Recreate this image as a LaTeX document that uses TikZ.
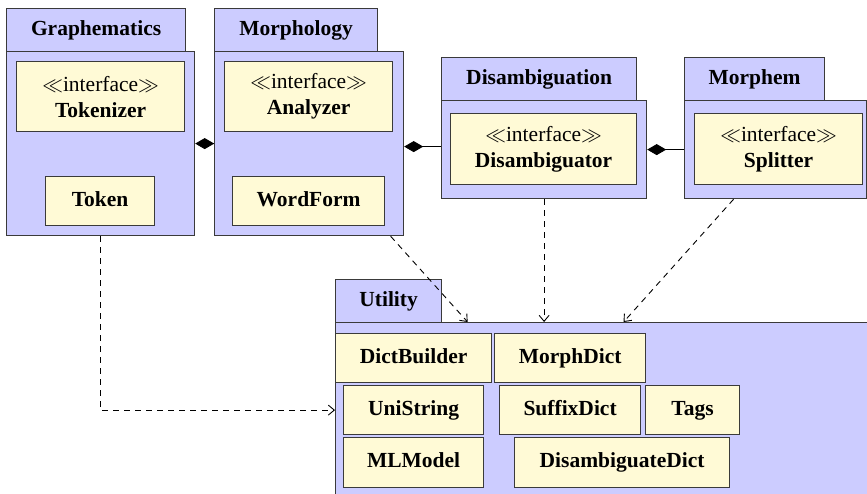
\documentclass[tikz,border=0pt]{standalone}
\usepackage{fontspec}
\setmainfont{Liberation Serif}
\usetikzlibrary{arrows.meta}
\definecolor{pkg}{HTML}{CCCCFF}
\definecolor{cls}{HTML}{FFFAD6}
\definecolor{edge}{HTML}{3A3A3A}
\begin{document}
\begin{tikzpicture}[x=1pt,y=-1pt,
  box/.style={draw=edge, line width=1.2pt, anchor=north west, inner sep=0pt, align=center,
    font=\fontsize{21.5}{26}\selectfont\bfseries},
  one/.style={text height=15pt, text depth=5pt},
  pkgpart/.style={box, fill=pkg, one},
  clsbox/.style={box, fill=cls, one},
  ifbox/.style={box, fill=cls},
  comp/.style={draw=black, line width=0.9pt, {Diamond[length=19pt,width=11pt]}-},
  dep/.style={draw=black, line width=0.9pt, dash pattern=on 6pt off 5pt,
    -{Straight Barb[length=6pt,width=10pt]}}
]
\useasboundingbox (0,0) rectangle (867,493);
% Graphematics
\node[pkgpart, minimum width=179pt, minimum height=43pt] (gtab) at (6,8) {Graphematics};
\node[pkgpart, minimum width=188pt, minimum height=184pt] (gbody) at (6,51) {};
\node[ifbox, minimum width=168pt, minimum height=70pt] (tokenizer) at (16,61) {{\mdseries $\ll$interface$\gg$}\\Tokenizer};
\node[clsbox, minimum width=109pt, minimum height=49pt] (token) at (45,176) {Token};
% Morphology
\node[pkgpart, minimum width=163pt, minimum height=43pt] (mtab) at (214,8) {Morphology};
\node[pkgpart, minimum width=189pt, minimum height=184pt] (mbody) at (214,51) {};
\node[ifbox, minimum width=168pt, minimum height=70pt] (analyzer) at (224,61) {{\mdseries $\ll$interface$\gg$}\\Analyzer};
\node[clsbox, minimum width=152pt, minimum height=49pt] (wordform) at (232,176) {WordForm};
% Disambiguation
\node[pkgpart, minimum width=195pt, minimum height=43pt] (dtab) at (441,57) {Disambiguation};
\node[pkgpart, minimum width=205pt, minimum height=98pt] (dbody) at (441,100) {};
\node[ifbox, minimum width=186pt, minimum height=71pt] (disambiguator) at (450,113) {{\mdseries $\ll$interface$\gg$}\\Disambiguator};
% Morphem
\node[pkgpart, minimum width=140pt, minimum height=43pt] (stab) at (684,57) {Morphem};
\node[pkgpart, minimum width=182pt, minimum height=98pt] (sbody) at (684,100) {};
\node[ifbox, minimum width=168pt, minimum height=71pt] (splitter) at (694,113) {{\mdseries $\ll$interface$\gg$}\\Splitter};
% Utility
\node[pkgpart, minimum width=106pt, minimum height=43pt] (utab) at (335,279) {Utility};
\node[pkgpart, minimum width=560pt, minimum height=200pt] (ubody) at (335,322) {};
\node[clsbox, minimum width=156pt, minimum height=49pt] (dictbuilder) at (335,333) {DictBuilder};
\node[clsbox, minimum width=151pt, minimum height=49pt] (morphdict) at (494,333) {MorphDict};
\node[clsbox, minimum width=140pt, minimum height=49pt] (unistring) at (343,385) {UniString};
\node[clsbox, minimum width=141pt, minimum height=49pt] (suffixdict) at (499,385) {SuffixDict};
\node[clsbox, minimum width=94pt, minimum height=49pt] (tags) at (645,385) {Tags};
\node[clsbox, minimum width=140pt, minimum height=50pt] (mlmodel) at (343,437) {MLModel};
\node[clsbox, minimum width=215pt, minimum height=50pt] (disdict) at (514,437) {DisambiguateDict};
% compositions
\draw[comp] (gbody.east) -- (mbody.west);
\draw[comp] ([yshift=-3pt]mbody.east) -- ([yshift=-3pt]mbody.east -| dbody.west);
\draw[comp] (dbody.east) -- (sbody.west);
% dependencies
\draw[dep] (token.south |- gbody.south) |- (unistring.west -| ubody.west);
\draw[dep] ([xshift=81.5pt]mbody.south) -- ([xshift=-148pt]ubody.north);
\draw[dep] (dbody.south) -- (dbody.south |- ubody.north);
\draw[dep] ([xshift=-42pt]sbody.south) -- ([xshift=8pt]ubody.north);
\end{tikzpicture}
\end{document}
